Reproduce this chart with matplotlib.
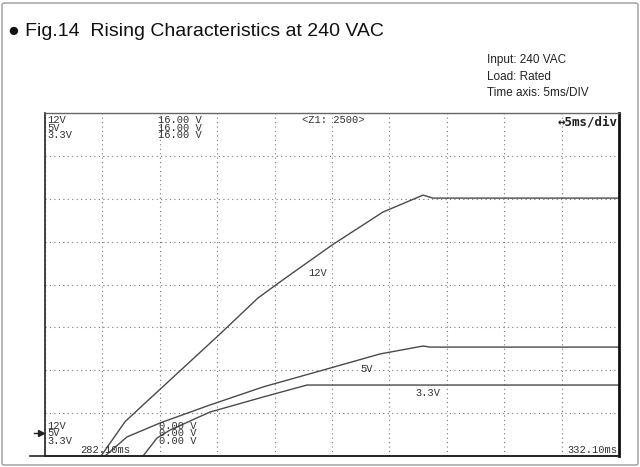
import matplotlib
matplotlib.use("Agg")
import matplotlib.pyplot as plt
from matplotlib.lines import Line2D
from matplotlib.patches import FancyBboxPatch
import numpy as np

# time axis (ms) and voltage axis (V) of the scope screen
T_START, T_END, T_DIV = 282.1, 332.1, 5.0
V_MIN, V_MAX, V_DIV = 0.0, 16.0, 2.0

t_12v = [286.98, 289.07, 290.64, 292.99, 297.34, 300.65, 302.57, 307.10, 311.54, 315.03, 315.90, 332.1]
v_12v = [0.0, 1.60, 2.38, 3.54, 5.69, 7.37, 8.12, 9.84, 11.38, 12.17, 12.03, 12.03]

t_5v = [287.33, 289.24, 292.12, 296.47, 301.09, 306.93, 311.28, 315.03, 315.64, 332.1]
v_5v = [0.0, 0.89, 1.54, 2.38, 3.22, 4.10, 4.76, 5.13, 5.08, 5.08]

t_33v = [290.64, 291.86, 292.99, 296.47, 301.09, 304.92, 332.1]
v_33v = [0.0, 0.84, 1.21, 2.05, 2.75, 3.31, 3.31]

channels = ["12V", "5V", "3.3V"]
title = "\u25cf Fig.14  Rising Characteristics at 240 VAC"
conditions = ["Input: 240 VAC", "Load: Rated", "Time axis: 5ms/DIV"]

W, H = 640, 467
fig = plt.figure(figsize=(6.4, 4.67), dpi=100)
plt.rcParams["font.family"] = ["Liberation Sans", "DejaVu Sans"]

# outer frame
fig.patches.append(FancyBboxPatch((2 / W, 2 / H), 636 / W, 462 / H,
                                  boxstyle="round,pad=0,rounding_size=0.004",
                                  transform=fig.transFigure, fill=False,
                                  edgecolor="#9a9a9a", linewidth=1.0))

fig.text(8 / W, 1 - 31 / H, title, fontsize=14, va="center", ha="left", color="#111111")
fig.text(487 / W, 1 - 77 / H, "\n".join(conditions), fontsize=8.5, va="center",
         ha="left", linespacing=1.5, color="#222222")

ax = fig.add_axes([45 / W, 11 / H, 574 / W, 343 / H])
ax.set_xlim(T_START, T_END)
ax.set_ylim(V_MIN, V_MAX)
ax.set_xticks(np.arange(T_START, T_END + 0.01, T_DIV))
ax.set_yticks(np.arange(V_MIN, V_MAX + 0.01, V_DIV))
ax.tick_params(length=0, labelbottom=False, labelleft=False)
ax.grid(True, color="#777777", linestyle=(0, (1, 3)), linewidth=0.8)

for side in ["left", "bottom"]:
    ax.spines[side].set_color("#222222")
    ax.spines[side].set_linewidth(1.2)
ax.spines["top"].set_color("#666666")
ax.spines["top"].set_linewidth(1.0)
ax.spines["right"].set_color("#111111")
ax.spines["right"].set_linewidth(2.0)

for t, v in [(t_12v, v_12v), (t_5v, v_5v), (t_33v, v_33v)]:
    ax.plot(t, v, color="#4a4a4a", linewidth=1.0, clip_on=False)

mono = dict(family=["Liberation Mono", "DejaVu Sans Mono"], color="#333333")
ax.text(0.004, 0.994, "\n".join(channels), transform=ax.transAxes, fontsize=7.5,
        va="top", ha="left", linespacing=0.7, **mono)
ax.text(0.197, 0.994, "\n".join(["16.00 V"] * 3), transform=ax.transAxes, fontsize=7.5,
        va="top", ha="left", linespacing=0.7, **mono)
ax.text(0.447, 0.994, "<Z1: 2500>", transform=ax.transAxes, fontsize=7.5,
        va="top", ha="left", **mono)
ax.text(0.997, 0.994, "\u2194" + "5ms/div", transform=ax.transAxes, fontsize=9,
        va="top", ha="right", fontweight="bold", family=["DejaVu Sans Mono"], color="#222222")

ax.text(0.004, 0.066, "\n".join(channels), transform=ax.transAxes, fontsize=7.5,
        va="center", ha="left", linespacing=0.7, **mono)
ax.text(0.198, 0.066, "\n".join(["0.00 V"] * 3), transform=ax.transAxes, fontsize=7.5,
        va="center", ha="left", linespacing=0.7, **mono)
ax.text(0.061, 0.004, "282.10ms", transform=ax.transAxes, fontsize=7.5,
        va="bottom", ha="left", **mono)
ax.text(0.997, 0.004, "332.10ms", transform=ax.transAxes, fontsize=7.5,
        va="bottom", ha="right", **mono)

ax.text(305.0, 8.55, "12V", fontsize=7.5, ha="left", va="center", **mono)
ax.text(309.6, 4.05, "5V", fontsize=7.5, ha="left", va="center", **mono)
ax.text(314.4, 2.95, "3.3V", fontsize=7.5, ha="left", va="center", **mono)

# bottom baseline extends left of the screen, and the ground marker
fig.add_artist(Line2D([30 / W, 619 / W], [11 / H, 11 / H], color="#222222", linewidth=1.2))
fig.add_artist(Line2D([34 / W, 42 / W], [1 - 433 / H, 1 - 433 / H], color="#222222", linewidth=1.0))
fig.add_artist(Line2D([41 / W], [1 - 433 / H], marker=">", markersize=4, color="#222222"))

fig.savefig("out.png", dpi=100)
